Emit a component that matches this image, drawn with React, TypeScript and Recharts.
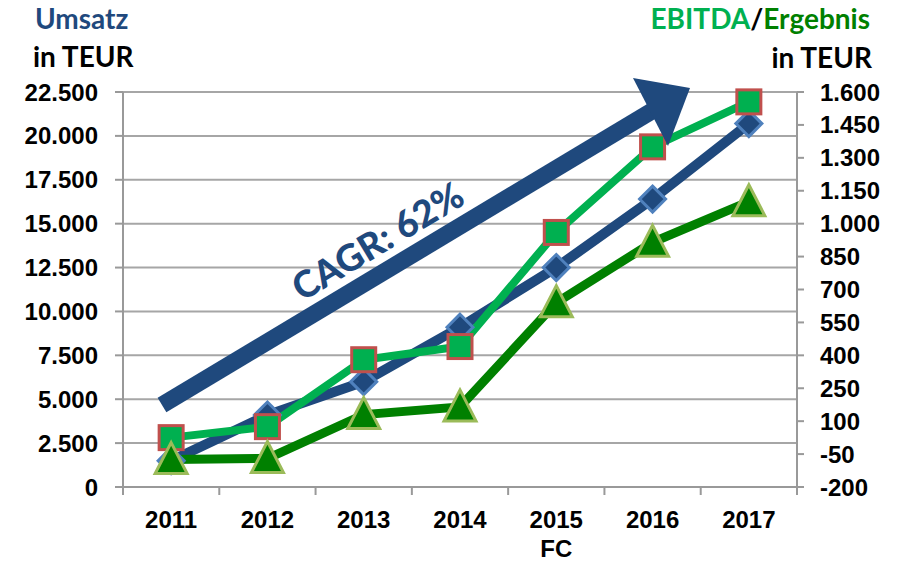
import { ComposedChart, Line, XAxis, YAxis, CartesianGrid } from 'recharts';

const years = ['2011', '2012', '2013', '2014', '2015 FC', '2016', '2017'];
const umsatz = [1500, 4100, 6000, 9100, 12500, 16400, 20700];
const ebitda = [25, 75, 380, 440, 960, 1350, 1555];
const ergebnis = [-75, -70, 130, 165, 640, 915, 1100];
const leftTicks = [0, 2500, 5000, 7500, 10000, 12500, 15000, 17500, 20000, 22500];
const rightTicks = [-200, -50, 100, 250, 400, 550, 700, 850, 1000, 1150, 1300, 1450, 1600];

const data = years.map((year, i) => ({
  year,
  umsatz: umsatz[i],
  ebitda: ebitda[i],
  ergebnis: ergebnis[i],
}));

const BLUE = '#1F497D';
const TICK_FONT = '"Liberation Sans", Arial, sans-serif';
const TITLE_FONT = 'Lato, "Open Sans", sans-serif';

const fmt = (v: number) => {
  const s = Math.abs(v).toString().replace(/\B(?=(\d{3})+(?!\d))/g, '.');
  return v < 0 ? '-' + s : s;
};

function Diamond({ cx, cy }: any) {
  if (cx == null || cy == null) return null;
  return (
    <polygon
      points={`${cx},${cy - 13} ${cx + 13},${cy} ${cx},${cy + 13} ${cx - 13},${cy}`}
      fill={BLUE}
      stroke="#4F81BD"
      strokeWidth={3}
    />
  );
}

function Square({ cx, cy }: any) {
  if (cx == null || cy == null) return null;
  return (
    <rect x={cx - 12} y={cy - 12} width={24} height={24} fill="#00B050" stroke="#C0504D" strokeWidth={3} />
  );
}

function Triangle({ cx, cy }: any) {
  if (cx == null || cy == null) return null;
  return (
    <polygon
      points={`${cx},${cy - 17} ${cx + 16},${cy + 14} ${cx - 16},${cy + 14}`}
      fill="#008000"
      stroke="#9BBB59"
      strokeWidth={3}
    />
  );
}

function YearTick({ x, y, payload, index }: any) {
  const half = payload?.offset ?? 48;
  const lines = String(payload.value).split(' ');
  return (
    <g>
      <line x1={x - half} x2={x - half} y1={y} y2={y + 8} stroke="#999" strokeWidth={2} />
      {index === years.length - 1 && (
        <line x1={x + half} x2={x + half} y1={y} y2={y + 8} stroke="#999" strokeWidth={2} />
      )}
      <text x={x} y={y + 41} textAnchor="middle" fontFamily={TICK_FONT} fontWeight="bold" fontSize={24} fill="#000">
        {lines.map((l, i) => (
          <tspan key={i} x={x} dy={i === 0 ? 0 : 29}>{l}</tspan>
        ))}
      </text>
    </g>
  );
}

const axisLine = { stroke: '#999', strokeWidth: 2 };
const tickStyle = { fontFamily: TICK_FONT, fontWeight: 'bold', fontSize: 24, fill: '#000' };

export default function App() {
  return (
    <div style={{ position: 'absolute', left: 0, top: 0, width: 900, height: 562, background: '#fff' }}>
      <ComposedChart width={900} height={562} data={data} margin={{ top: 92, right: 0, bottom: 0, left: 0 }}>
        <CartesianGrid yAxisId="left" vertical={false} stroke="#A6A6A6" strokeWidth={2} />
        <XAxis
          dataKey="year"
          scale="band"
          height={75}
          axisLine={axisLine}
          tickLine={false}
          tickSize={0}
          tickMargin={0}
          interval={0}
          tick={<YearTick />}
        />
        <YAxis
          yAxisId="left"
          width={123}
          domain={[0, 22500]}
          ticks={leftTicks}
          tickFormatter={fmt}
          axisLine={axisLine}
          tickLine={{ stroke: '#999', strokeWidth: 2 }}
          tickSize={8}
          tickMargin={17}
          tick={tickStyle}
          interval={0}
        />
        <YAxis
          yAxisId="right"
          orientation="right"
          width={103}
          domain={[-200, 1600]}
          ticks={rightTicks}
          tickFormatter={fmt}
          axisLine={axisLine}
          tickLine={{ stroke: '#999', strokeWidth: 2 }}
          tickSize={7}
          tickMargin={16}
          tick={{ ...tickStyle, textAnchor: 'start' }}
          interval={0}
        />
        <Line
          yAxisId="left"
          dataKey="umsatz"
          type="linear"
          stroke={BLUE}
          strokeWidth={10}
          dot={(p: any) => <Diamond key={p.index} {...p} />}
          isAnimationActive={false}
        />
        <Line
          yAxisId="right"
          dataKey="ebitda"
          type="linear"
          stroke="#00B050"
          strokeWidth={8}
          dot={(p: any) => <Square key={p.index} {...p} />}
          isAnimationActive={false}
        />
        <Line
          yAxisId="right"
          dataKey="ergebnis"
          type="linear"
          stroke="#008000"
          strokeWidth={9}
          dot={(p: any) => <Triangle key={p.index} {...p} />}
          isAnimationActive={false}
        />
      </ComposedChart>
      <svg width={900} height={562} style={{ position: 'absolute', left: 0, top: 0, pointerEvents: 'none' }}>
        {/* growth arrow */}
        <line x1={162} y1={405} x2={652} y2={111} stroke={BLUE} strokeWidth={17} />
        <polygon points="690,88 633,78 668,146" fill={BLUE} />
        <text
          x={377}
          y={240}
          transform="rotate(-31 377 240)"
          textAnchor="middle"
          dominantBaseline="central"
          fontFamily={TITLE_FONT}
          fontWeight="900"
          fontSize={37}
          fill={BLUE}
        >
          CAGR: 62%
        </text>
        <text x={35} y={29} fontFamily={TITLE_FONT} fontWeight="bold" fontSize={28} fill={BLUE}>Umsatz</text>
        <text x={33} y={67} fontFamily={TITLE_FONT} fontWeight="bold" fontSize={28} fill="#000">in TEUR</text>
        <text x={870} y={29} textAnchor="end" fontFamily={TITLE_FONT} fontWeight="bold" fontSize={28}>
          <tspan fill="#00B050">EBITDA</tspan>
          <tspan fill="#000">/</tspan>
          <tspan fill="#008000">Ergebnis</tspan>
        </text>
        <text x={872} y={68} textAnchor="end" fontFamily={TITLE_FONT} fontWeight="bold" fontSize={28} fill="#000">in TEUR</text>
      </svg>
    </div>
  );
}
